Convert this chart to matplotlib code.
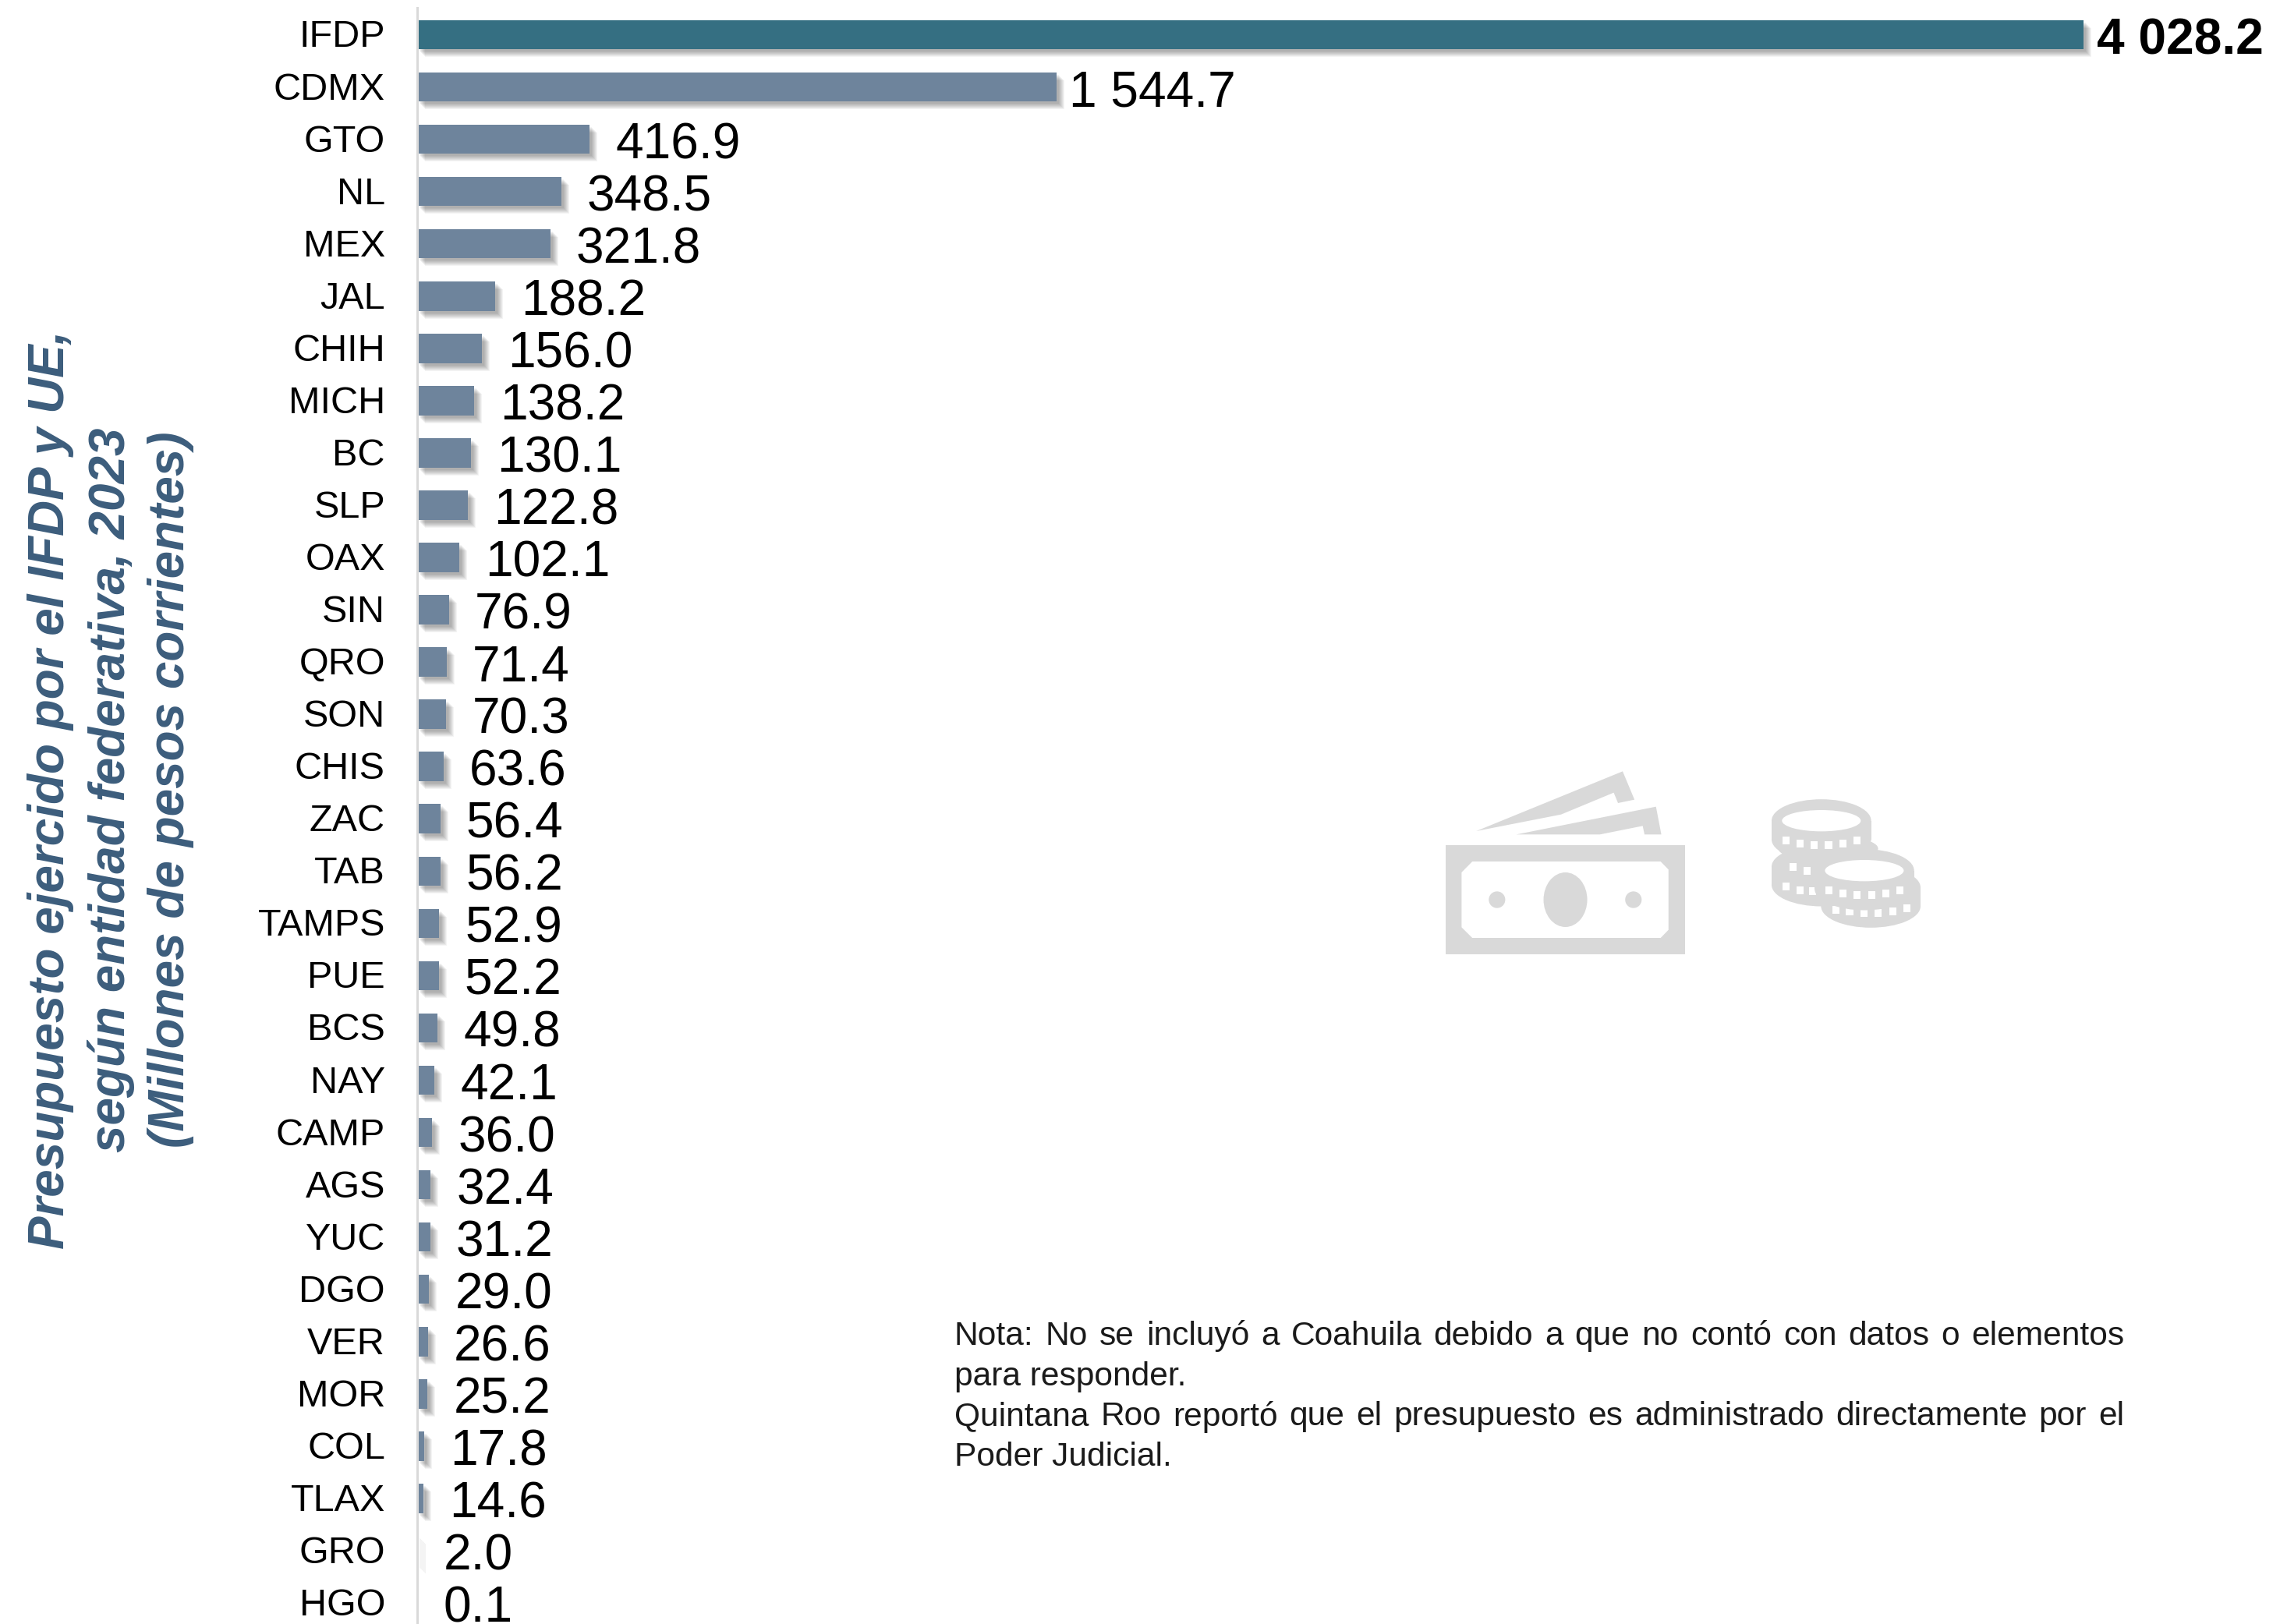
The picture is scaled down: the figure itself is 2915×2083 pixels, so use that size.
import matplotlib
matplotlib.use("Agg")
import matplotlib.pyplot as plt
import matplotlib.patheffects as pe
from matplotlib.patches import Polygon, Ellipse, Rectangle
from matplotlib.transforms import ScaledTranslation

plt.rcParams['font.family'] = ['Liberation Sans', 'DejaVu Sans']

W, H = 2915, 2083
DPI = 100

estados = ['IFDP', 'CDMX', 'GTO', 'NL', 'MEX', 'JAL', 'CHIH', 'MICH', 'BC', 'SLP', 'OAX', 'SIN',
           'QRO', 'SON', 'CHIS', 'ZAC', 'TAB', 'TAMPS', 'PUE', 'BCS', 'NAY', 'CAMP', 'AGS', 'YUC',
           'DGO', 'VER', 'MOR', 'COL', 'TLAX', 'GRO', 'HGO']
presupuesto = [4028.2, 1544.7, 416.9, 348.5, 321.8, 188.2, 156.0, 138.2, 130.1, 122.8, 102.1, 76.9,
               71.4, 70.3, 63.6, 56.4, 56.2, 52.9, 52.2, 49.8, 42.1, 36.0, 32.4, 31.2,
               29.0, 26.6, 25.2, 17.8, 14.6, 2.0, 0.1]
etiquetas = ['4 028.2', '1 544.7'] + [f'{v:.1f}' for v in presupuesto[2:]]

titulo = 'Presupuesto ejercido por el IFDP y UE,\nsegún entidad federativa, 2023\n(Millones de pesos corrientes)'
nota = [('Nota: No se incluyó a Coahuila debido a que no contó con datos o elementos', True),
        ('para responder.', False),
        ('Quintana Roo reportó que el presupuesto es administrado directamente por el', True),
        ('Poder Judicial.', False)]

GRIS = '#D9D9D9'


def px(n):
    # pixeles a puntos
    return n * 72 / DPI


fig = plt.figure(figsize=(W / DPI, H / DPI), dpi=DPI)

# capa en pixeles para iconos y nota
capa = fig.add_axes([0, 0, 1, 1])
capa.set_xlim(0, W)
capa.set_ylim(H, 0)
capa.axis('off')

x0 = 535
escala = 0.5306
fila = 67.05
y0 = 44.5
ax = fig.add_axes([x0 / W, 0, 1 - x0 / W, 1])
ax.patch.set_alpha(0)
ax.set_xlim(0, (W - x0) / escala)
ax.set_ylim((H - y0) / fila, -y0 / fila)

colores = ['#356F82'] + ['#6E849C'] * (len(estados) - 1)
barras = ax.barh(range(len(estados)), presupuesto, height=0.56, color=colores)
sombra = [pe.SimplePatchShadow(offset=(px(d), -px(d)), shadow_rgbFace='#000000', alpha=0.045)
          for d in (10, 9, 8, 7, 6, 5, 4, 3)]
for b in barras:
    b.set_path_effects(sombra + [pe.Normal()])

ax.set_yticks(range(len(estados)))
ax.set_yticklabels(estados, fontsize=px(48.5), va='center')
ax.tick_params(axis='y', length=0, pad=px(41), labelcolor='black')
for t in ax.get_yticklabels():
    t.set_transform(t.get_transform() + ScaledTranslation(0, -3.5 / DPI, fig.dpi_scale_trans))
ax.xaxis.set_visible(False)
for lado in ['top', 'right', 'bottom']:
    ax.spines[lado].set_visible(False)
ax.spines['left'].set_color('#D9D9D9')
ax.spines['left'].set_linewidth(px(3))
ax.spines['left'].set_bounds(-y0 / fila + 10 / fila, (H - y0) / fila)

for i, (v, txt) in enumerate(zip(presupuesto, etiquetas)):
    sep = 17 if i == 0 else (16 if i == 1 else 33)
    ax.annotate(txt, (v, i), xytext=(px(sep), -px(7.5)), textcoords='offset points',
                va='center', ha='left', fontsize=px(64), color='black',
                fontweight='bold' if i == 0 else 'normal')

# titulo del eje
fig.text(142 / W, 1 - 1013 / H, titulo, rotation=90, ha='center', va='center', multialignment='center',
         fontsize=px(63.8), fontweight='bold', fontstyle='italic', color='#3C5D7C', linespacing=1.34)

# nota justificada
fig.canvas.draw()
rend = fig.canvas.get_renderer()
izq, der = 1224, 2724
for k, (linea, justificar) in enumerate(nota):
    y = 1714 + k * 51.5
    if not justificar:
        capa.text(izq, y, linea, fontsize=px(42.5), va='center', color='#1a1a1a')
        continue
    palabras = linea.split(' ')
    anchos = []
    for p in palabras:
        t = capa.text(0, 0, p, fontsize=px(42.5))
        anchos.append(t.get_window_extent(rend).width)
        t.remove()
    hueco = (der - izq - sum(anchos)) / (len(palabras) - 1)
    x = izq
    for p, a in zip(palabras, anchos):
        capa.text(x, y, p, fontsize=px(42.5), va='center', color='#1a1a1a')
        x += a + hueco


# iconos, coordenadas tomadas del recorte
def X(x):
    return 1800 + x / 2.178


def Y(y):
    return 960 + y / 3


def poli(puntos, color=GRIS):
    capa.add_patch(Polygon([(X(a), Y(b)) for a, b in puntos], closed=True, fc=color, ec='none'))


def elipse(cx, cy, w, h, color=GRIS):
    capa.add_patch(Ellipse((X(cx), Y(cy)), w / 2.178, h / 3, fc=color, ec='none'))


def caja(a, b, c, d, color=GRIS):
    capa.add_patch(Rectangle((X(a), Y(b)), (c - a) / 2.178, (d - b) / 3, fc=color, ec='none'))


# billete
poli([(203, 318), (612, 88), (645, 197), (599, 210), (587, 170), (440, 254)])
poli([(315, 331), (705, 224), (720, 331), (673, 331), (668, 298), (548, 331)])
caja(117, 372, 786, 792)
poli([(192, 435), (718, 435), (740, 466), (740, 698), (718, 729), (192, 729), (162, 688), (162, 477)], 'white')
elipse(452, 582, 122, 210)
elipse(261, 582, 46, 64)
elipse(642, 582, 46, 64)


def ventanas(xs, ys):
    for a, b in zip(xs, ys):
        caja(a - 10, b - 15, a + 10, b + 15, 'white')


# monedas
def cuerpo(cx, arriba, abajo, w=278, h=165):
    elipse(cx, arriba, w, h)
    elipse(cx, abajo, w, h)
    caja(cx - w / 2, arriba, cx + w / 2, abajo)


filas_dx = [-99, -60, -20, 20, 60, 99]
filas_dy = [75, 87, 95, 95, 87, 75]

# pila izquierda
cuerpo(1167, 455, 525)
ventanas([1068, 1107, 1143], [530, 545, 550])
ventanas([1088, 1127], [457, 470])
cuerpo(1186, 385, 385, 278, 100)
cuerpo(1167, 278, 350)
elipse(1167, 278, 220, 82, 'white')
ventanas([1167 + d for d in filas_dx], [278 + d for d in filas_dy])
# pila derecha
cuerpo(1305, 535, 607)
ventanas([1207, 1246, 1286, 1326, 1366, 1406], [620, 628, 634, 634, 628, 615])
cuerpo(1287, 470, 540)
elipse(1287, 470, 220, 82, 'white')
ventanas([1287 + d for d in filas_dx], [470 + d for d in filas_dy])

plt.savefig('out.png', dpi=DPI)
plt.close()
